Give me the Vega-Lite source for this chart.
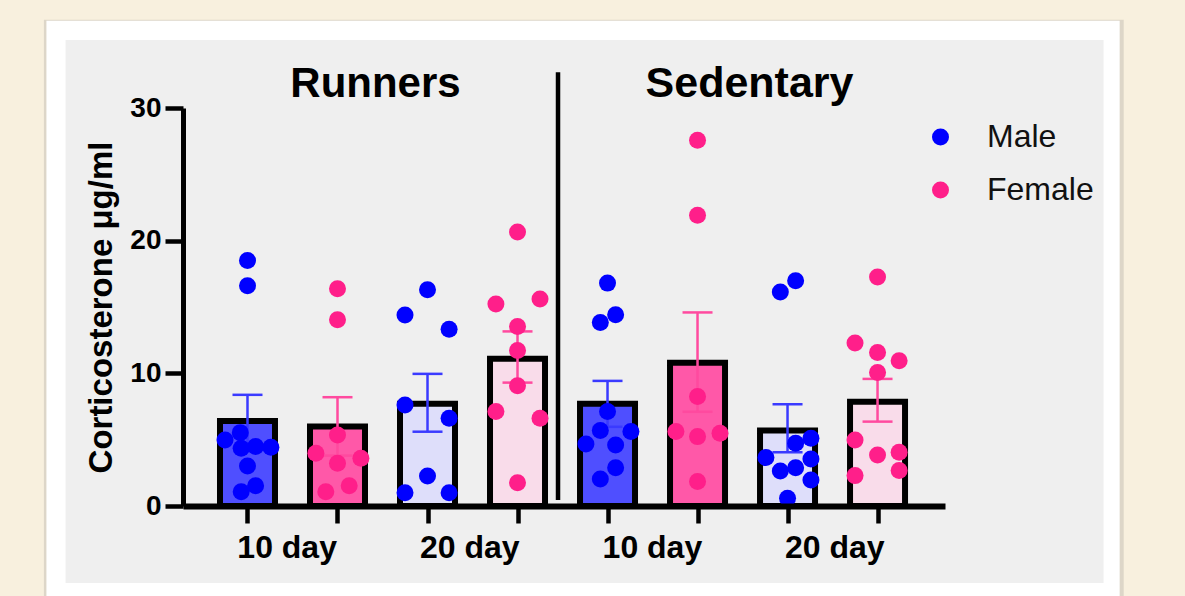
{
  "$schema": "https://vega.github.io/schema/vega-lite/v6.json",
  "width": 762,
  "height": 398,
  "autosize": {"type": "none"},
  "padding": {"left": 183, "top": 108, "right": 240, "bottom": 90},
  "background": "#f8f0de",
  "config": {"font": "Liberation Sans", "view": {"stroke": null}, "axis": {"grid": false, "zindex": 1}},
  "datasets": {
    "bars": [
      {"cond": "Runners", "day": "10 day", "sex": "Male", "g": 1, "mean": 6.4, "lo": 4.42, "hi": 8.38},
      {"cond": "Runners", "day": "10 day", "sex": "Female", "g": 2, "mean": 6.0, "lo": 3.8, "hi": 8.2},
      {"cond": "Runners", "day": "20 day", "sex": "Male", "g": 3, "mean": 7.7, "lo": 5.6, "hi": 9.96},
      {"cond": "Runners", "day": "20 day", "sex": "Female", "g": 4, "mean": 11.1, "lo": 9.3, "hi": 13.16},
      {"cond": "Sedentary", "day": "10 day", "sex": "Male", "g": 5, "mean": 7.7, "lo": 5.97, "hi": 9.43},
      {"cond": "Sedentary", "day": "10 day", "sex": "Female", "g": 6, "mean": 10.8, "lo": 7.1, "hi": 14.59},
      {"cond": "Sedentary", "day": "20 day", "sex": "Male", "g": 7, "mean": 5.7, "lo": 4.05, "hi": 7.67},
      {"cond": "Sedentary", "day": "20 day", "sex": "Female", "g": 8, "mean": 7.85, "lo": 6.36, "hi": 9.58}
    ],
    "pts": [
      {"sex": "Male", "x": 1.0, "v": 18.5}, {"sex": "Male", "x": 1.0, "v": 16.6},
      {"sex": "Male", "x": 0.75, "v": 4.98}, {"sex": "Male", "x": 0.92, "v": 5.53},
      {"sex": "Male", "x": 0.93, "v": 4.35}, {"sex": "Male", "x": 1.09, "v": 4.48},
      {"sex": "Male", "x": 1.26, "v": 4.43}, {"sex": "Male", "x": 1.0, "v": 3.02},
      {"sex": "Male", "x": 0.93, "v": 1.08}, {"sex": "Male", "x": 1.09, "v": 1.53},

      {"sex": "Female", "x": 2.0, "v": 16.38}, {"sex": "Female", "x": 2.0, "v": 14.04},
      {"sex": "Female", "x": 2.0, "v": 5.36}, {"sex": "Female", "x": 1.76, "v": 3.97},
      {"sex": "Female", "x": 2.0, "v": 3.22}, {"sex": "Female", "x": 2.26, "v": 3.6},
      {"sex": "Female", "x": 1.87, "v": 1.08}, {"sex": "Female", "x": 2.13, "v": 1.53},

      {"sex": "Male", "x": 3.0, "v": 16.3}, {"sex": "Male", "x": 2.75, "v": 14.39},
      {"sex": "Male", "x": 3.24, "v": 13.33}, {"sex": "Male", "x": 2.75, "v": 7.62},
      {"sex": "Male", "x": 3.24, "v": 6.62}, {"sex": "Male", "x": 3.0, "v": 2.26},
      {"sex": "Male", "x": 2.75, "v": 1.0}, {"sex": "Male", "x": 3.24, "v": 1.0},

      {"sex": "Female", "x": 4.0, "v": 20.66}, {"sex": "Female", "x": 3.76, "v": 15.22},
      {"sex": "Female", "x": 4.25, "v": 15.6}, {"sex": "Female", "x": 4.0, "v": 13.53},
      {"sex": "Female", "x": 4.0, "v": 11.72}, {"sex": "Female", "x": 4.0, "v": 9.06},
      {"sex": "Female", "x": 3.76, "v": 7.12}, {"sex": "Female", "x": 4.25, "v": 6.62},
      {"sex": "Female", "x": 4.0, "v": 1.76},

      {"sex": "Male", "x": 5.0, "v": 16.8}, {"sex": "Male", "x": 5.09, "v": 14.42},
      {"sex": "Male", "x": 4.92, "v": 13.84}, {"sex": "Male", "x": 5.0, "v": 7.12},
      {"sex": "Male", "x": 4.92, "v": 5.69}, {"sex": "Male", "x": 5.26, "v": 5.61},
      {"sex": "Male", "x": 4.76, "v": 4.68}, {"sex": "Male", "x": 5.09, "v": 4.6},
      {"sex": "Male", "x": 5.09, "v": 2.89}, {"sex": "Male", "x": 4.92, "v": 2.04},

      {"sex": "Female", "x": 6.0, "v": 27.57}, {"sex": "Female", "x": 6.0, "v": 21.91},
      {"sex": "Female", "x": 6.0, "v": 8.25}, {"sex": "Female", "x": 5.76, "v": 5.61},
      {"sex": "Female", "x": 6.0, "v": 5.23}, {"sex": "Female", "x": 6.25, "v": 5.48},
      {"sex": "Female", "x": 6.0, "v": 1.84},

      {"sex": "Male", "x": 7.09, "v": 16.98}, {"sex": "Male", "x": 6.92, "v": 16.13},
      {"sex": "Male", "x": 7.26, "v": 5.11}, {"sex": "Male", "x": 7.09, "v": 4.73},
      {"sex": "Male", "x": 6.76, "v": 3.65}, {"sex": "Male", "x": 7.26, "v": 3.55},
      {"sex": "Male", "x": 6.92, "v": 2.64}, {"sex": "Male", "x": 7.09, "v": 2.89},
      {"sex": "Male", "x": 7.26, "v": 1.96}, {"sex": "Male", "x": 7.0, "v": 0.58},

      {"sex": "Female", "x": 8.0, "v": 17.26}, {"sex": "Female", "x": 7.75, "v": 12.28},
      {"sex": "Female", "x": 8.0, "v": 11.57}, {"sex": "Female", "x": 8.24, "v": 10.94},
      {"sex": "Female", "x": 8.0, "v": 10.06}, {"sex": "Female", "x": 7.75, "v": 4.98},
      {"sex": "Female", "x": 8.24, "v": 4.05}, {"sex": "Female", "x": 8.0, "v": 3.85},
      {"sex": "Female", "x": 7.75, "v": 2.29}, {"sex": "Female", "x": 8.24, "v": 2.67}
    ]
  },
  "layer": [
    {
      "data": {"values": [{}]},
      "mark": {"type": "rect", "fill": "#ddd6c8"},
      "encoding": {
        "x": {"datum": -1.262, "type": "quantitative", "scale": {"domain": [0.339, 8.694], "nice": false, "zero": false}},
        "x2": {"datum": 10.735},
        "y": {"datum": 36.66, "type": "quantitative", "scale": {"domain": [0, 30], "nice": false}},
        "y2": {"datum": -7.5}
      }
    },
    {
      "data": {"values": [{}]},
      "mark": {"type": "rect", "fill": "#ffffff"},
      "encoding": {
        "x": {"datum": -1.234, "type": "quantitative", "scale": {"domain": [0.339, 8.694], "nice": false, "zero": false}},
        "x2": {"datum": 10.69},
        "y": {"datum": 36.58, "type": "quantitative", "scale": {"domain": [0, 30], "nice": false}},
        "y2": {"datum": -7.5}
      }
    },
    {
      "data": {"values": [{}]},
      "mark": {"type": "rect", "fill": "#efefef"},
      "encoding": {
        "x": {"datum": -1.021, "type": "quantitative", "scale": {"domain": [0.339, 8.694], "nice": false, "zero": false}},
        "x2": {"datum": 10.511},
        "y": {"datum": 35.12, "type": "quantitative", "scale": {"domain": [0, 30], "nice": false}},
        "y2": {"datum": -5.8}
      }
    },
    {
      "data": {"name": "bars"},
      "mark": {"type": "bar", "width": 55, "stroke": "black", "strokeWidth": 6},
      "encoding": {
        "x": {
          "field": "g", "type": "quantitative",
          "scale": {"domain": [0.339, 8.694], "nice": false, "zero": false},
          "axis": {
            "values": [1, 1.435, 2, 3, 3.464, 4, 5, 5.493, 6, 7, 7.52, 8],
            "labelExpr": "datum.value==1.435||datum.value==5.493?'10 day':(datum.value==3.464||datum.value==7.52?'20 day':'')",
            "labelAlign": "center", "labelFontSize": 32, "labelFontWeight": "bold",
            "labelColor": "black", "labelPadding": 9, "labelOverlap": false, "labelBound": false, "labelFlush": false,
            "tickSize": 17, "tickWidth": 4.5, "tickColor": "black",
            "tickOpacity": {"condition": {"test": "datum.value % 1 != 0", "value": 0}, "value": 1},
            "domainColor": "black", "domainWidth": 6, "title": null, "zindex": 1
          }
        },
        "y": {
          "field": "mean", "type": "quantitative",
          "scale": {"domain": [0, 30], "nice": false},
          "axis": {
            "values": [0, 10, 20, 30], "tickSize": 18, "tickWidth": 4.5, "tickColor": "black",
            "domainColor": "black", "domainWidth": 5,
            "labelFontSize": 28, "labelFontWeight": "bold", "labelColor": "black", "labelPadding": 4,
            "title": "Corticosterone μg/ml", "titleFontSize": 33, "titleFontWeight": "bold",
            "titleColor": "black", "titlePadding": 11, "zindex": 1
          }
        },
        "fill": {
          "condition": [
            {"test": "datum.sex=='Male' && datum.day=='10 day'", "value": "#4f4fff"},
            {"test": "datum.sex=='Female' && datum.day=='10 day'", "value": "#ff58a8"},
            {"test": "datum.sex=='Male' && datum.day=='20 day'", "value": "#dedefa"},
            {"test": "datum.sex=='Female' && datum.day=='20 day'", "value": "#f9dcea"}
          ],
          "value": "#dddddd"
        }
      }
    },
    {
      "data": {"name": "bars"},
      "mark": {"type": "rule", "strokeWidth": 2.5},
      "encoding": {
        "x": {"field": "g", "type": "quantitative", "scale": {"domain": [0.339, 8.694], "nice": false, "zero": false}, "title": null},
        "y": {"field": "lo", "type": "quantitative", "scale": {"domain": [0, 30], "nice": false}, "title": "Corticosterone μg/ml"},
        "y2": {"field": "hi"},
        "color": {"condition": {"test": "datum.sex=='Male'", "value": "#3a3aff"}, "value": "#ff4a9f"}
      }
    },
    {
      "data": {"name": "bars"},
      "mark": {"type": "tick", "orient": "horizontal", "size": 30, "thickness": 2.5, "opacity": 1},
      "encoding": {
        "x": {"field": "g", "type": "quantitative", "scale": {"domain": [0.339, 8.694], "nice": false, "zero": false}, "title": null},
        "y": {"field": "hi", "type": "quantitative", "scale": {"domain": [0, 30], "nice": false}, "title": "Corticosterone μg/ml"},
        "color": {"condition": {"test": "datum.sex=='Male'", "value": "#3a3aff"}, "value": "#ff4a9f"}
      }
    },
    {
      "data": {"name": "bars"},
      "mark": {"type": "tick", "orient": "horizontal", "size": 30, "thickness": 2.5, "opacity": 1},
      "encoding": {
        "x": {"field": "g", "type": "quantitative", "scale": {"domain": [0.339, 8.694], "nice": false, "zero": false}, "title": null},
        "y": {"field": "lo", "type": "quantitative", "scale": {"domain": [0, 30], "nice": false}, "title": "Corticosterone μg/ml"},
        "color": {"condition": {"test": "datum.sex=='Male'", "value": "#3a3aff"}, "value": "#ff4a9f"}
      }
    },
    {
      "data": {"name": "pts"},
      "mark": {"type": "point", "filled": true, "size": 289, "opacity": 1, "strokeWidth": 0},
      "encoding": {
        "x": {"field": "x", "type": "quantitative", "scale": {"domain": [0.339, 8.694], "nice": false, "zero": false}, "title": null},
        "y": {"field": "v", "type": "quantitative", "scale": {"domain": [0, 30], "nice": false}, "title": "Corticosterone μg/ml"},
        "color": {
          "field": "sex", "type": "nominal",
          "scale": {"domain": ["Male", "Female"], "range": ["#0000ff", "#ff1f8a"]},
          "legend": {
            "orient": "none", "legendX": 741.5, "legendY": 13, "title": null, "padding": 0,
            "labelFontSize": 32, "labelColor": "#111111", "symbolSize": 289, "symbolType": "circle",
            "symbolStrokeWidth": 0, "rowPadding": 21, "labelOffset": 30.5
          }
        }
      }
    },
    {
      "data": {"values": [{}]},
      "mark": {"type": "rule", "strokeWidth": 4.5, "color": "black"},
      "encoding": {
        "x": {"datum": 4.45, "type": "quantitative", "scale": {"domain": [0.339, 8.694], "nice": false, "zero": false}},
        "y": {"datum": 0.45, "type": "quantitative", "scale": {"domain": [0, 30], "nice": false}},
        "y2": {"datum": 32.7}
      }
    },
    {
      "data": {"values": [{}]},
      "mark": {"type": "text", "text": "Runners", "fontSize": 42, "fontWeight": "bold", "color": "black", "baseline": "alphabetic", "align": "center"},
      "encoding": {
        "x": {"datum": 2.422, "type": "quantitative", "scale": {"domain": [0.339, 8.694], "nice": false, "zero": false}},
        "y": {"datum": 30.85, "type": "quantitative", "scale": {"domain": [0, 30], "nice": false}}
      }
    },
    {
      "data": {"values": [{}]},
      "mark": {"type": "text", "text": "Sedentary", "fontSize": 43, "fontWeight": "bold", "color": "black", "baseline": "alphabetic", "align": "center"},
      "encoding": {
        "x": {"datum": 6.578, "type": "quantitative", "scale": {"domain": [0.339, 8.694], "nice": false, "zero": false}},
        "y": {"datum": 30.85, "type": "quantitative", "scale": {"domain": [0, 30], "nice": false}}
      }
    }
  ]
}
